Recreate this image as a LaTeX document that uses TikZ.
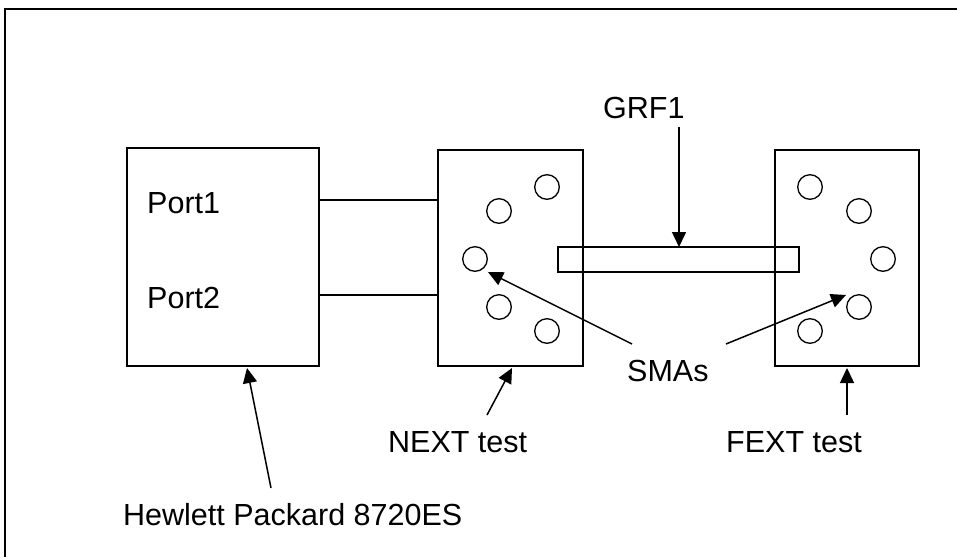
\documentclass[tikz,border=0pt]{standalone}
\usepackage{fontspec}
\setmainfont{Liberation Sans}
\usetikzlibrary{arrows.meta}
\begin{document}
\begin{tikzpicture}[x=1pt,y=-1pt,
  box/.style={draw,line width=2pt,inner sep=0pt,outer sep=0pt},
  port/.style={draw,line width=1.3pt,circle,minimum size=24.6pt,inner sep=0pt},
  strip/.style={draw,line width=1.3pt,inner sep=0pt,outer sep=0pt},
  wire/.style={line width=1.3pt},
  arr/.style={line width=1.5pt,-{Triangle[length=15pt,width=14pt]}},
  lbl/.style={anchor=base west,inner sep=0pt,font=\fontsize{30.5}{36}\selectfont}]
\useasboundingbox (0,0) rectangle (957,557);
\draw[line width=2pt] (5,557) -- (5,9) -- (957,9);
% boxes
\node[box,minimum width=192pt,minimum height=218pt] (hp) at (223,257) {};
\node[box,minimum width=145pt,minimum height=216pt] (next) at (510.5,258) {};
\node[box,minimum width=144pt,minimum height=216pt] (fext) at (847,258) {};
\node[strip,minimum width=241pt,minimum height=25pt] (grf) at (678.5,259.5) {};
% ports
\node[port] (n1) at (547,187) {};
\node[port] (n2) at (499,211) {};
\node[port] (n3) at (475,259) {};
\node[port] (n4) at (499,307) {};
\node[port] (n5) at (547,331) {};
\node[port] (f1) at (810,187) {};
\node[port] (f2) at (859,211) {};
\node[port] (f3) at (883,259) {};
\node[port] (f4) at (859,307) {};
\node[port] (f5) at (810,331) {};
% labels
\node[lbl] (p1) at (147,213) {Port1};
\node[lbl] (p2) at (147,308) {Port2};
\node[lbl] (grfl) at (603,118) {GRF1};
\node[lbl] (sma) at (627,381) {SMAs};
\node[lbl] (nextl) at (388,452) {NEXT test};
\node[lbl] (fextl) at (726,452) {FEXT test};
\node[lbl] (hpl) at (123,525) {Hewlett Packard 8720ES};
% wires
\coordinate (ya) at (0,200);
\coordinate (yb) at (0,295);
\draw[wire] (hp.east |- ya) -- (next.west |- ya);
\draw[wire] (hp.east |- yb) -- (next.west |- yb);
% arrows
\coordinate (grft) at (679,127);
\coordinate (grfh) at (679,247);
\draw[arr] (grft) -- (grfh);
\coordinate (smaa) at (632,344);
\coordinate (smaah) at (488,272);
\draw[arr] (smaa) -- (smaah);
\coordinate (smab) at (726,344);
\coordinate (smabh) at (846,295);
\draw[arr] (smab) -- (smabh);
\coordinate (nt) at (487,415);
\coordinate (nh) at (512,368);
\draw[arr] (nt) -- (nh);
\coordinate (ft) at (847,415);
\coordinate (fh) at (847,368);
\draw[arr] (ft) -- (fh);
\coordinate (ht) at (271,488);
\coordinate (hh) at (247,368);
\draw[arr] (ht) -- (hh);
\end{tikzpicture}
\end{document}
